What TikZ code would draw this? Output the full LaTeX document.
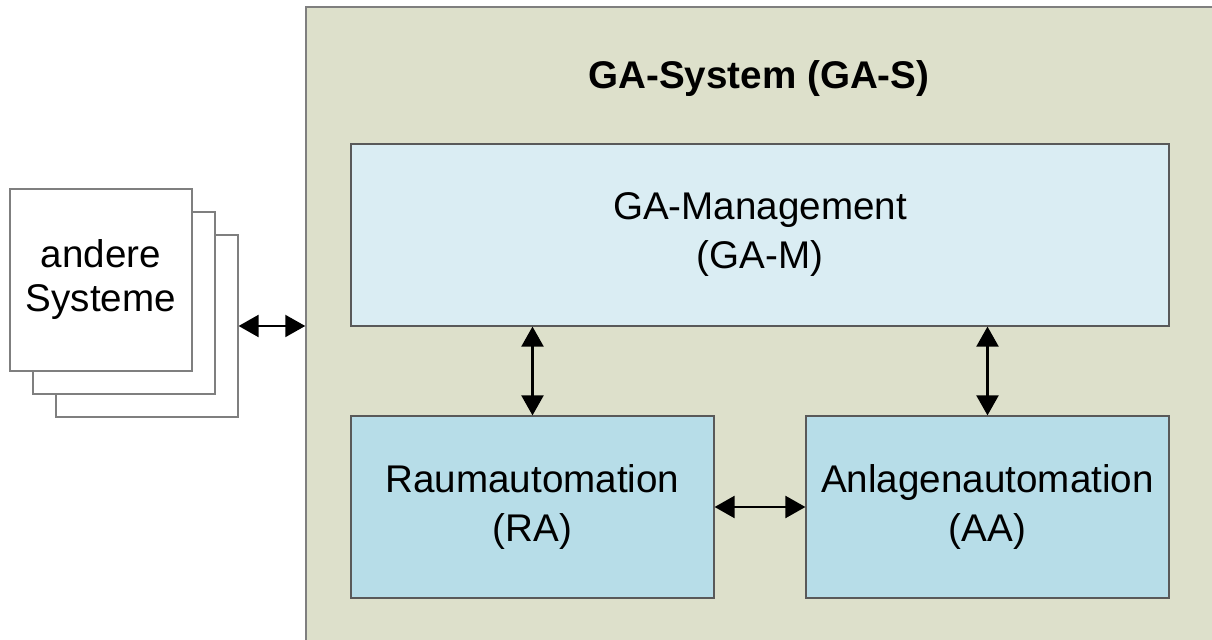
\documentclass[tikz,border=0pt]{standalone}
\usepackage{fontspec}
\setmainfont{Liberation Sans}
\usepackage{xcolor}
\usetikzlibrary{arrows.meta, positioning}
\definecolor{sysgreen}{HTML}{DDE0CB}
\definecolor{mgmtblue}{HTML}{DAEDF3}
\definecolor{autoblue}{HTML}{B7DDE8}
\definecolor{framegray}{HTML}{7F7F7F}
\tikzset{
  % Block styles
  sysframe/.style={rectangle, draw=framegray, fill=sysgreen, line width=0.75pt, minimum width=467pt, minimum height=326.5pt},
  block/.style={rectangle, draw=black!65, fill=#1, line width=0.6pt, text centered, align=center, minimum height=91pt, font=\fontsize{19.3}{24.5}\selectfont},
  block/.default={autoblue},
  page/.style={rectangle, draw=framegray, fill=white, line width=0.6pt, minimum width=91pt, minimum height=91pt, align=center, font=\fontsize{19.3}{22}\selectfont},
  biarrow/.style={{Triangle[length=10pt,width=11pt]}-{Triangle[length=10pt,width=11pt]}, line width=1.1pt},
}
\begin{document}
\begin{tikzpicture}[x=0.5pt, y=-0.5pt]
    \useasboundingbox (0,0) rectangle (1212,640);
    \clip (0,0) rectangle (1212,640);
    % GA system frame
    \node[sysframe] (gas) at (773,333.5) {};
    \node[font=\fontsize{19.3}{24}\selectfont\bfseries] (title) at (759,79) {GA-System (GA-S)};
    % Inner blocks
    \node[block=mgmtblue, minimum width=409pt] (gam) at (760,235) {GA-Management\\(GA-M)};
    \node[block, minimum width=181.5pt] (ra) at (532.5,507) {Raumautomation\\(RA)};
    \node[block, minimum width=181.5pt] (aa) at (987.5,507) {Anlagenautomation\\(AA)};
    % Stack of other systems
    \node[page] (page3) at (147,326) {};
    \node[page] (page2) at (124,303) {};
    \node[page] (page1) at (101,280) {andere\\Systeme};
    % Connections
    \draw[biarrow] (ra.north) -- (ra.north |- gam.south);
    \draw[biarrow] (aa.north) -- (aa.north |- gam.south);
    \draw[biarrow] (ra.east) -- (aa.west);
    \draw[biarrow] (page3.east) -- (page3.east -| gas.west);
\end{tikzpicture}
\end{document}
